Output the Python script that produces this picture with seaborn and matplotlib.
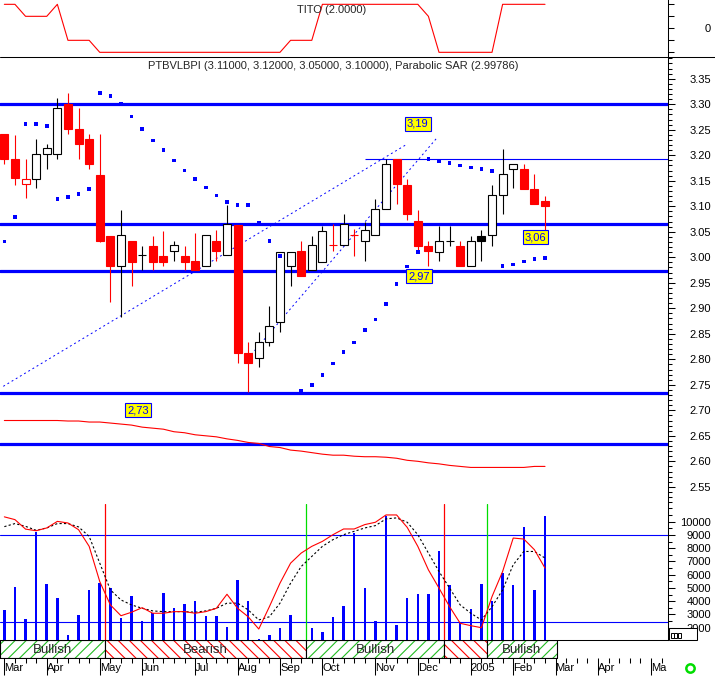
import matplotlib
matplotlib.use("Agg")
import matplotlib.pyplot as plt
import matplotlib.ticker as mticker
from matplotlib.lines import Line2D
from matplotlib.patches import Rectangle
import numpy as np
import seaborn as sns

sns.set_theme(context="paper", style="white")
plt.rcParams["font.family"] = ["Liberation Sans", "DejaVu Sans"]
plt.rcParams["axes.edgecolor"] = "black"
plt.rcParams["axes.linewidth"] = 0.75
plt.rcParams["hatch.linewidth"] = 0.8
plt.rcParams["xtick.color"] = "black"
plt.rcParams["ytick.color"] = "black"

# weekly bars, first bar = first week of March 2004
opens = [3.241, 3.192, 3.143, 3.153, 3.202, 3.202, 3.300, 3.252, 3.232, 3.161,
         3.042, 2.982, 3.032, 3.004, 3.022, 3.002, 3.012, 3.002, 2.993, 2.982,
         3.032, 3.004, 3.063, 2.812, 2.802, 2.833, 2.873, 2.982, 3.012, 2.975,
         2.991, 3.024, 3.024, 3.044, 3.032, 3.044, 3.094, 3.192, 3.142, 3.071,
         3.022, 3.011, 3.032, 3.023, 2.982, 3.042, 3.044, 3.122, 3.173, 3.173,
         3.134, 3.110]
highs = [3.241, 3.240, 3.192, 3.232, 3.222, 3.313, 3.323, 3.292, 3.242, 3.242,
         3.042, 3.093, 3.032, 3.022, 3.042, 3.052, 3.032, 3.022, 3.048, 3.044,
         3.053, 3.102, 3.063, 2.834, 2.853, 2.904, 3.011, 3.011, 3.032, 3.042,
         3.062, 3.065, 3.084, 3.055, 3.070, 3.114, 3.192, 3.192, 3.154, 3.093,
         3.032, 3.062, 3.062, 3.032, 3.042, 3.053, 3.142, 3.212, 3.182, 3.182,
         3.163, 3.120]
lows = [3.182, 3.142, 3.116, 3.135, 3.173, 3.193, 3.242, 3.193, 3.173, 3.030,
        2.913, 2.883, 2.944, 2.975, 2.975, 2.983, 2.993, 2.976, 2.975, 2.982,
        2.993, 3.004, 2.793, 2.735, 2.784, 2.827, 2.854, 2.944, 2.964, 2.975,
        2.991, 3.013, 3.024, 3.003, 2.993, 3.044, 3.094, 3.104, 3.073, 3.008,
        2.983, 2.993, 3.022, 2.983, 2.982, 2.993, 3.022, 3.084, 3.135, 3.133,
        3.104, 3.050]
closes = [3.192, 3.155, 3.154, 3.202, 3.214, 3.292, 3.252, 3.222, 3.182, 3.032,
          2.983, 3.044, 2.991, 3.004, 2.991, 2.990, 3.024, 2.991, 2.975, 3.044,
          3.013, 3.066, 2.813, 2.793, 2.833, 2.865, 3.011, 3.011, 2.964, 3.024,
          3.052, 3.024, 3.065, 3.044, 3.053, 3.094, 3.182, 3.143, 3.084, 3.023,
          3.013, 3.032, 3.032, 2.983, 3.032, 3.032, 3.122, 3.163, 3.182, 3.133,
          3.104, 3.100]
volume = [3340, 5050, 2680, 9250, 5280, 4220, 1450, 2940, 4850, 5370,
          4970, 2730, 4390, 2510, 3090, 4620, 3490, 3790, 4020, 2880,
          2880, 2030, 5600, 4020, 1120, 1430, 2000, 2960, 0, 2000,
          1680, 2810, 3640, 9170, 4970, 2480, 10430, 2180, 4220, 4540,
          4540, 7790, 5220, 2330, 3410, 5300, 4040, 6150, 5200, 9580,
          4850, 10450]
sar = [3.031, 3.079, 3.261, 3.261, 3.257, 3.114, 3.118, 3.124, 3.134, 3.322,
       3.316, 3.300, 3.276, 3.251, 3.229, 3.210, 3.190, 3.170, 3.153, 3.137,
       3.121, 3.108, 3.102, 3.102, 3.067, 3.032, 3.003, 2.733, 2.739, 2.749,
       2.769, 2.792, 2.814, 2.833, 2.857, 2.878, 2.908, 2.948, 2.982, 3.010,
       3.193, 3.189, 3.185, 3.180, 3.176, 3.173, 3.169, 2.983, 2.986, 2.992,
       2.996, 2.998]
long_ma = [2.680, 2.680, 2.680, 2.680, 2.680, 2.680, 2.679, 2.679, 2.677, 2.677,
           2.675, 2.673, 2.671, 2.667, 2.665, 2.663, 2.658, 2.656, 2.652, 2.650,
           2.648, 2.644, 2.641, 2.637, 2.635, 2.629, 2.627, 2.622, 2.620, 2.617,
           2.614, 2.612, 2.612, 2.610, 2.609, 2.609, 2.608, 2.606, 2.602, 2.600,
           2.597, 2.595, 2.592, 2.590, 2.588, 2.588, 2.588, 2.588, 2.588, 2.588,
           2.590, 2.590]
stoch_k = [92.2, 90.3, 83.8, 82.7, 84.6, 89.1, 88.0, 83.4, 72.0, 47.9,
           31.9, 24.5, 26.9, 30.0, 26.2, 26.2, 27.3, 27.3, 26.2, 27.3,
           29.6, 39.2, 29.6, 23.8, 15.4, 30.7, 46.8, 60.5, 67.4, 72.0,
           75.4, 80.0, 83.9, 83.9, 86.9, 88.5, 93.5, 93.5, 85.0, 72.0,
           55.9, 43.4, 30.7, 19.3, 17.7, 16.3, 37.6, 54.8, 77.7, 77.0,
           69.7, 57.1]
stoch_d = [85.5, 87.6, 85.7, 83.0, 84.6, 87.6, 87.6, 85.3, 78.8, 60.5,
           42.2, 35.3, 31.9, 29.6, 27.8, 27.3, 27.3, 27.3, 26.9, 27.8,
           29.6, 33.1, 33.1, 28.5, 21.6, 23.8, 33.1, 46.8, 58.2, 65.1,
           72.0, 76.6, 80.0, 82.3, 84.6, 86.2, 90.8, 91.5, 88.5, 80.0,
           67.4, 54.8, 43.4, 31.9, 26.2, 21.6, 30.7, 42.2, 59.4, 68.5,
           68.5, 64.0]
tito = [2, 2, 1, 1, 1, 2, -1, -1, -1, -2,
        -2, -2, -2, -2, -2, -2, -2, -2, -2, -2,
        -2, -2, -2, -2, -2, -2, -2, -1, -1, -1,
        2, 2, 2, 2, 2, 2, 2, 2, 2, 2,
        1, -2, -2, -2, -2, -2, -2, 2, 2, 2,
        2, 2]

levels = [3.30, 3.065, 2.9725, 2.7345, 2.634]
recent_high = 3.193
recent_high_from = 34.0
trend_a_x, trend_a_y = [-0.1, 38.0], [2.747, 3.222]
trend_b_x, trend_b_y = [22.7, 40.8], [2.795, 3.234]
tag_text = ["3,19", "3,06", "2,97", "2,73"]
tag_x = [39.0, 50.1, 39.1, 12.6]
tag_y = [3.262, 3.039, 2.963, 2.700]
signal_x = [9.5, 28.5, 41.5, 45.5]
signal_kind = ["sell", "buy", "sell", "buy"]
band_edges = [-0.41, 9.5, 28.5, 41.5, 45.5, 52.15]
band_kind = ["Bullish", "Bearish", "Bullish", "Bearish", "Bullish"]
band_label = ["Bullish", "Bearish", "Bullish", "", "Bullish"]
month_pos = [0, 4, 9, 13, 18, 22, 26, 30, 35, 39, 44, 48, 52, 56, 61]
month_lab = ["Mar", "Apr", "May", "Jun", "Jul", "Aug", "Sep", "Oct", "Nov",
             "Dec", "2005", "Feb", "Mar", "Apr", "Ma"]
price_ticks = np.round(np.arange(2.55, 3.351, 0.05), 2)
vol_ticks = [2000, 3000, 4000, 5000, 6000, 7000, 8000, 9000, 10000]

weeks = np.arange(len(closes))
BLUE, RED, GREEN = "#0000ff", "#ff0000", "#00dd00"
XLIM = (-0.41, 62.6)

fig = plt.figure(figsize=(7.15, 6.76), dpi=100)
W, H = 715, 676


def panel(top, bottom):
    ax = fig.add_axes([0, 1 - bottom / H, 668 / W, (bottom - top) / H])
    ax.set_xlim(*XLIM)
    for s in ["top", "left", "bottom"]:
        ax.spines[s].set_visible(False)
    ax.tick_params(axis="x", bottom=False, labelbottom=False)
    return ax


def right_ticks(ax, length):
    ax.yaxis.tick_right()
    ax.tick_params(axis="y", which="major", right=True, left=False,
                   length=length, width=0.75, pad=31 - length, labelsize=8)
    ax.tick_params(axis="y", which="minor", right=True, left=False,
                   length=2.9, width=0.75)
    plt.setp(ax.get_yticklabels(), ha="right")


# ---- TITO panel ----
ax_t = panel(0, 57)
sns.lineplot(x=weeks, y=tito, color=RED, lw=0.8, ax=ax_t)
ax_t.set_ylim(-2.39, 2.36)
ax_t.set_yticks([-2, -1, 0, 1, 2], ["", "", "0", "", ""])
right_ticks(ax_t, 4.3)
ax_t.set_xlim(*XLIM)
ax_t.text(0.497, 0.82, "TITO (2.0000)", transform=ax_t.transAxes,
          ha="center", va="center", fontsize=8)
fig.add_artist(Line2D([0, 1], [1 - 57 / H] * 2, color="black", lw=0.75))

# ---- price panel ----
ax_p = panel(57, 504)
for lv in levels:
    ax_p.axhline(lv, color=BLUE, lw=2.3, zorder=2)
ax_p.hlines(recent_high, recent_high_from, XLIM[1], color=BLUE, lw=0.8, zorder=2)
ax_p.plot(trend_a_x, trend_a_y, color=BLUE, lw=0.7, ls=(0, (2, 3)), zorder=2)
ax_p.plot(trend_b_x, trend_b_y, color=BLUE, lw=0.7, ls=(0, (2, 3)), zorder=2)
sns.lineplot(x=weeks, y=long_ma, color=RED, lw=0.8, ax=ax_p)

prev_close = [opens[0]] + closes[:-1]
for i in weeks:
    o, h, l, c = opens[i], highs[i], lows[i], closes[i]
    col = RED if c < prev_close[i] else "black"
    ax_p.vlines(i, l, h, color=col, lw=0.8, zorder=3)
    if o == c:
        ax_p.hlines(c, i - 0.38, i + 0.38, color=col, lw=0.8, zorder=4)
    else:
        face = col if c < o else "white"
        ax_p.add_patch(Rectangle((i - 0.38, min(o, c)), 0.76, abs(c - o),
                                 facecolor=face, edgecolor=col, lw=0.8, zorder=4))

sns.scatterplot(x=weeks, y=sar, marker="s", s=7, color=BLUE,
                edgecolor="none", ax=ax_p, zorder=5)
for t, x, y in zip(tag_text, tag_x, tag_y):
    ax_p.text(x, y, t, ha="center", va="center", fontsize=8, color=BLUE, zorder=6,
              bbox=dict(boxstyle="square,pad=0.18", fc="yellow", ec=BLUE, lw=0.8))
ax_p.set_ylim(2.5163, 3.3927)
ax_p.set_yticks(price_ticks, [f"{v:.2f}" for v in price_ticks])
ax_p.yaxis.set_minor_locator(mticker.MultipleLocator(0.01))
right_ticks(ax_p, 5)
ax_p.set_xlim(*XLIM)
ax_p.set_xlabel("")
ax_p.set_ylabel("")
ax_p.text(0.4985, 0.98, "PTBVLBPI (3.11000, 3.12000, 3.05000, 3.10000), Parabolic SAR (2.99786)",
          transform=ax_p.transAxes, ha="center", va="center", fontsize=8)

# ---- volume + stochastic panel ----
ax_v = panel(504, 640)
sns.barplot(x=weeks, y=volume, native_scale=True, width=0.24, color=BLUE,
            saturation=1, linewidth=0, errorbar=None, ax=ax_v)
ax_v.set_ylim(1072, 11336)
ax_v.set_yticks(vol_ticks, [str(v) for v in vol_ticks])
ax_v.yaxis.set_minor_locator(mticker.MultipleLocator(500))
right_ticks(ax_v, 5)
ax_v.set_xlim(*XLIM)
ax_v.set_xlabel("")
ax_v.set_ylabel("")
ax_v.tick_params(axis="x", bottom=False, labelbottom=False)

ax_s = fig.add_axes(ax_v.get_position())
ax_s.set_axis_off()
ax_s.axhline(80, color=BLUE, lw=0.8)
ax_s.axhline(20, color=BLUE, lw=0.8)
for x, k in zip(signal_x, signal_kind):
    ax_s.axvline(x, color=RED if k == "sell" else GREEN, lw=0.9)
sns.lineplot(x=weeks, y=stoch_d, color="black", lw=0.8, ls=(0, (2, 2)), ax=ax_s)
sns.lineplot(x=weeks, y=stoch_k, color=RED, lw=0.8, ax=ax_s)
ax_s.set_xlim(*XLIM)
ax_s.set_ylim(7.88, 101.0)

# ---- trend band + date axis ----
ax_b = fig.add_axes([0, 1 - 658 / H, 668 / W, 18 / H])
ax_b.set_xlim(*XLIM)
ax_b.set_ylim(0, 1)
for s in ["left", "right"]:
    ax_b.spines[s].set_visible(False)
ax_b.spines["bottom"].set_bounds(band_edges[0], band_edges[-1])
for x0, x1, kind, lab in zip(band_edges[:-1], band_edges[1:], band_kind, band_label):
    hcol = "#22bb22" if kind == "Bullish" else RED
    hatch = "///" if kind == "Bullish" else "\\\\\\"
    ax_b.add_patch(Rectangle((x0, 0), x1 - x0, 1, facecolor="white",
                             edgecolor=hcol, hatch=hatch, lw=0))
    ax_b.add_patch(Rectangle((x0, 0), x1 - x0, 1, fill=False,
                             edgecolor="black", lw=0.8))
    if lab:
        ax_b.text((x0 + x1) / 2, 0.45, lab, ha="center", va="center", fontsize=9.5)
ax_b.set_yticks([])
ax_b.set_xticks(month_pos, month_lab)
ax_b.xaxis.set_minor_locator(mticker.MultipleLocator(1))
ax_b.tick_params(axis="x", which="major", bottom=True, length=12, width=0.75,
                 pad=-8.6, labelsize=8)
ax_b.tick_params(axis="x", which="minor", bottom=True, length=3.6, width=0.75)
plt.setp(ax_b.get_xticklabels(), ha="left")

# small scroll widget and status marker at the bottom right
fig.add_artist(Rectangle((669 / W, 1 - 640 / H), 28 / W, 12 / H, transform=fig.transFigure,
                         facecolor="white", edgecolor="black", lw=0.75, zorder=10))
for k in range(3):
    fig.add_artist(Rectangle(((670.5 + 3.7 * k) / W, 1 - 638 / H), 3.2 / W, 5 / H,
                             transform=fig.transFigure, facecolor="white",
                             edgecolor="black", lw=0.7, zorder=11))
fig.add_artist(Line2D([690 / W], [1 - 668 / H], marker="o", ms=6, mfc="none",
                      mec=GREEN, mew=1.8, transform=fig.transFigure))

fig.savefig("out.png", dpi=100, facecolor="white")
